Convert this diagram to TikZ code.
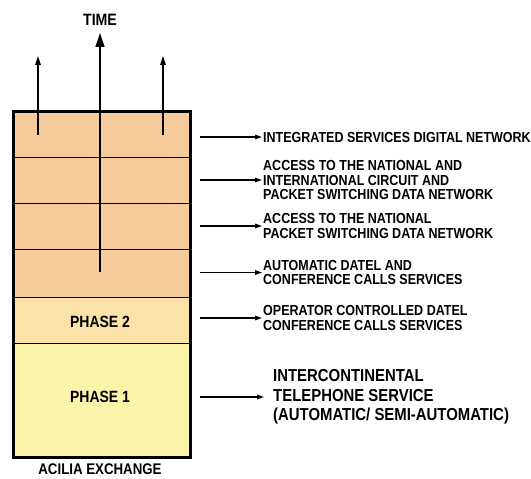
\documentclass[tikz,border=0pt]{standalone}
\usepackage{fontspec}
\setmainfont{Liberation Sans}[FakeStretch=0.86]
\usetikzlibrary{arrows.meta}
\definecolor{peach}{RGB}{246,204,156}
\definecolor{phasetwo}{RGB}{250,226,168}
\definecolor{phaseone}{RGB}{251,245,172}
\tikzset{
  lbl/.style={anchor=west,align=left,inner sep=1bp,font=\fontsize{14.6}{15}\selectfont\bfseries},
  biglbl/.style={anchor=west,align=left,inner sep=1bp,font=\fontsize{17.4}{19.5}\selectfont\bfseries},
  boxlbl/.style={inner sep=0pt,font=\fontsize{16.3}{18}\selectfont\bfseries},
  svc/.style={line width=1.3bp,-{Triangle[length=7bp,width=4.5bp]}},
  thin/.style={line width=1bp},
}
\begin{document}
\begin{tikzpicture}[x=1bp,y=-1bp]
\useasboundingbox (0,0) rectangle (531,479);
% bands
\fill[peach] (13,112) rectangle (190,297);
\fill[phasetwo] (13,297) rectangle (190,343);
\fill[phaseone] (13,343) rectangle (190,457);
\foreach \y in {158,203,249,297,343} \draw[thin] (13,\y) -- (190,\y);
\draw[line width=3bp] (13,112) rectangle (190,457);
% time arrows
\coordinate (tb) at (100,272);
\coordinate (tt) at (100,33);
\coordinate (lb) at (38,135);
\coordinate (lt) at (38,56);
\coordinate (rb) at (163,135);
\coordinate (rt) at (163,56);
\draw[line width=1.3bp,-{Triangle[length=14bp,width=9bp]}] (tb) -- (tt);
\draw[line width=1.3bp,-{Triangle[length=9bp,width=5.5bp]}] (lb) -- (lt);
\draw[line width=1.3bp,-{Triangle[length=9bp,width=5.5bp]}] (rb) -- (rt);
\node[boxlbl,font=\fontsize{16.5}{18}\selectfont\bfseries] (time) at (100,20) {TIME};
\node[boxlbl] (p2) at (100,322) {PHASE 2};
\node[boxlbl] (p1) at (100,397) {PHASE 1};
\node[boxlbl,font=\fontsize{15.5}{18}\selectfont\bfseries] (acilia) at (100,469) {ACILIA EXCHANGE};
% service labels
\node[lbl] (t1) at (262,137) {INTEGRATED SERVICES DIGITAL NETWORK};
\node[lbl] (t2) at (262,180) {ACCESS TO THE NATIONAL AND\\INTERNATIONAL CIRCUIT AND\\PACKET SWITCHING DATA NETWORK};
\node[lbl] (t3) at (262,226) {ACCESS TO THE NATIONAL\\PACKET SWITCHING DATA NETWORK};
\node[lbl] (t4) at (262,272.5) {AUTOMATIC DATEL AND\\CONFERENCE CALLS SERVICES};
\node[lbl] (t5) at (262,318) {OPERATOR CONTROLLED DATEL\\CONFERENCE CALLS SERVICES};
\node[biglbl] (t6) at (272,397) {INTERCONTINENTAL\\TELEPHONE SERVICE\\(AUTOMATIC/ SEMI-AUTOMATIC)};
\coordinate (s1) at (200,137);
\coordinate (s2) at (200,180);
\coordinate (s3) at (200,226);
\coordinate (s4) at (200,272.5);
\coordinate (s5) at (200,318);
\coordinate (s6) at (200,397);
\draw[svc] (s1) -- (t1.west);
\draw[svc] (s2) -- (t2.west);
\draw[svc] (s3) -- (t3.west);
\draw[svc] (s4) -- (t4.west);
\draw[svc] (s5) -- (t5.west);
\draw[svc] (s6) -- ([xshift=-8bp]t6.west);
\end{tikzpicture}
\end{document}
